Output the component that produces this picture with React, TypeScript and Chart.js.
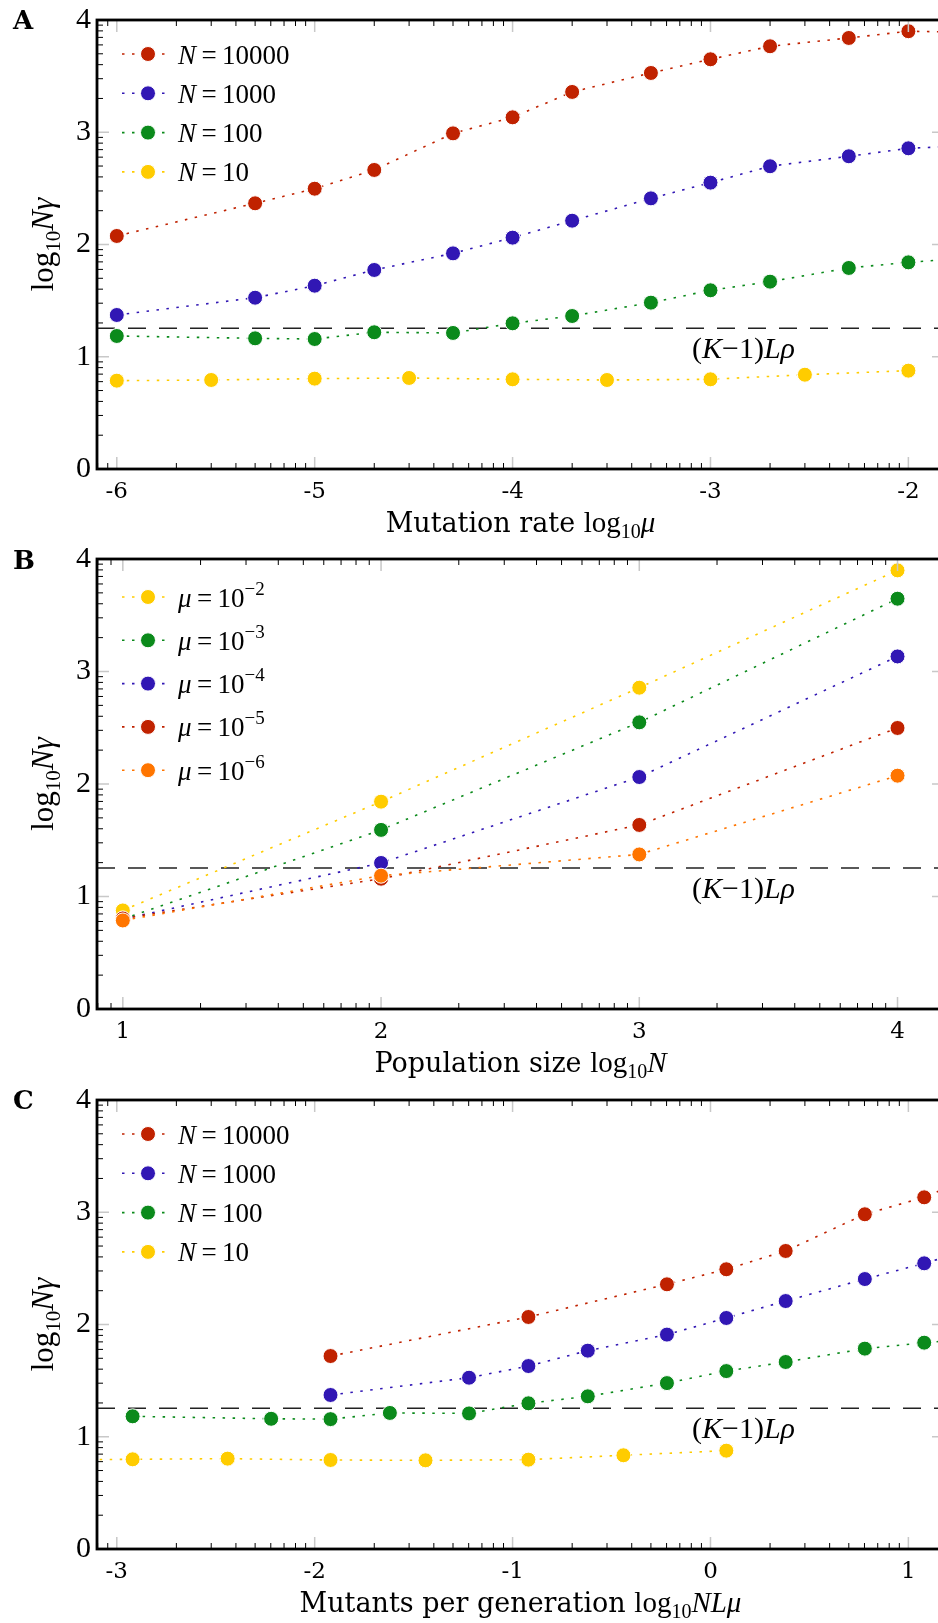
import React, { useEffect, useRef } from 'react';
import { Chart, registerables } from 'chart.js';

Chart.register(...registerables);

// ---------- colours & fonts ----------
const RED = '#c02200';
const BLUE = '#3117b4';
const GREEN = '#0b8a1b';
const YELLOW = '#ffcc00';
const ORANGE = '#ff7500';
const MATH = '"Liberation Serif", "Times New Roman", serif';
const TEXT = '"DejaVu Serif", serif';

// ---------- shared ----------
const yTicks = [0, 1, 2, 3, 4];
const thresholdA = 1.255;
const thresholdB = 1.253;
const thresholdC = 1.254;

// ---------- Panel A : log10 mu ----------
const xTicksA = [-6, -5, -4, -3, -2];
const muA = [-6, -5.301, -5, -4.699, -4.301, -4, -3.699, -3.301, -3, -2.699, -2.301, -2, -1.699];
const muA10 = [-6, -5.523, -5, -4.523, -4, -3.523, -3, -2.523, -2];
const aN10000 = [2.076, 2.367, 2.497, 2.664, 2.99, 3.133, 3.359, 3.528, 3.65, 3.766, 3.84, 3.9, 3.89];
const aN1000 = [1.372, 1.526, 1.633, 1.773, 1.921, 2.061, 2.212, 2.411, 2.551, 2.697, 2.786, 2.857, 2.88];
const aN100 = [1.185, 1.164, 1.158, 1.218, 1.212, 1.298, 1.363, 1.482, 1.592, 1.669, 1.791, 1.841, 1.88];
const aN10 = [0.787, 0.793, 0.805, 0.811, 0.799, 0.793, 0.799, 0.84, 0.876];

// ---------- Panel B : log10 N ----------
const xTicksB = [1, 2, 3, 4];
const logN = [1, 2, 3, 4];
const bMu2 = [0.876, 1.843, 2.856, 3.899];
const bMu3 = [0.799, 1.592, 2.548, 3.647];
const bMu4 = [0.799, 1.298, 2.062, 3.134];
const bMu5 = [0.805, 1.158, 1.636, 2.498];
const bMu6 = [0.787, 1.185, 1.374, 2.074];

// ---------- Panel C : log10 N L mu ----------
const xTicksC = [-3, -2, -1, 0, 1];
const cxN10000 = [-1.92, -0.92, -0.22, 0.08, 0.38, 0.78, 1.08, 1.38];
const cN10000 = [1.719, 2.067, 2.358, 2.492, 2.655, 2.982, 3.133, 3.359];
const cxN1000 = [-1.92, -1.22, -0.92, -0.62, -0.22, 0.08, 0.38, 0.78, 1.08, 1.38];
const cN1000 = [1.372, 1.526, 1.63, 1.767, 1.91, 2.058, 2.209, 2.405, 2.545, 2.697];
const cxN100 = [-2.92, -2.22, -1.92, -1.62, -1.22, -0.92, -0.62, -0.22, 0.08, 0.38, 0.78, 1.08, 1.38];
const cN100 = [1.182, 1.16, 1.157, 1.212, 1.208, 1.298, 1.36, 1.478, 1.585, 1.666, 1.785, 1.838, 1.88];
const cxN10 = [-3.92, -3.44, -2.92, -2.44, -1.92, -1.44, -0.92, -0.44, 0.08];
const cN10 = [0.787, 0.793, 0.799, 0.805, 0.793, 0.79, 0.796, 0.835, 0.876];

// ---------- helpers ----------
type Run = { t: string; font: string; dy?: number };

function runsWidth(ctx: CanvasRenderingContext2D, runs: Run[]) {
  let w = 0;
  for (const r of runs) {
    ctx.font = r.font;
    w += ctx.measureText(r.t).width;
  }
  return w;
}

function drawRuns(ctx: CanvasRenderingContext2D, runs: Run[], x: number, y: number, align: 'left' | 'center') {
  let cx = align === 'center' ? x - runsWidth(ctx, runs) / 2 : x;
  ctx.textAlign = 'left';
  ctx.textBaseline = 'alphabetic';
  for (const r of runs) {
    ctx.font = r.font;
    ctx.fillText(r.t, cx, y + (r.dy || 0));
    cx += ctx.measureText(r.t).width;
  }
}

const rom = (s: number) => `${s}px ${MATH}`;
const ita = (s: number) => `italic ${s}px ${MATH}`;

const nLabel = (n: string): Run[] => [
  { t: 'N', font: ita(27) },
  { t: '\u2009=\u2009', font: rom(27) },
  { t: n, font: rom(27) },
];
const muLabel = (e: string): Run[] => [
  { t: 'μ', font: ita(27) },
  { t: '\u2009=\u2009', font: rom(27) },
  { t: '10', font: rom(27) },
  { t: '\u2212' + e, font: rom(19), dy: -12 },
];
const log10 = (): Run[] => [
  { t: 'log', font: rom(29) },
  { t: '10', font: rom(20), dy: 6 },
];

function series(label: string, xs: number[], ys: number[], color: string, order: number) {
  return {
    label,
    data: xs.map((x, i) => ({ x, y: ys[i] })),
    borderColor: color,
    backgroundColor: color,
    pointBackgroundColor: color,
    pointBorderColor: '#ffffff',
    pointBorderWidth: 1,
    pointRadius: 7.5,
    pointHoverRadius: 7.5,
    borderWidth: 1.6,
    borderDash: [2.5, 7.5],
    fill: false,
    tension: 0,
    order,
    clip: 0,
  };
}

function thresholdSet(v: number, xMin: number, xMax: number) {
  return {
    label: '(K-1)Lρ',
    data: [
      { x: xMin, y: v },
      { x: xMax, y: v },
    ],
    borderColor: '#222222',
    borderWidth: 1.5,
    borderDash: [18, 13],
    pointRadius: 0,
    fill: false,
    order: 99,
    clip: 0,
  };
}

type PanelCfg = {
  letter: string;
  top: number;
  h: number;
  padTop: number;
  areaH: number;
  xMin: number;
  xMax: number;
  xTicks: number[];
  threshold: number;
  datasets: any[];
  legend: { runs: Run[]; color: string }[];
  legendFirst: number;
  legendGap: number;
  xTitle: Run[];
  xTitleOffset: number;
};

const CANVAS_W = 944;

function decorPlugin(cfg: PanelCfg) {
  return {
    id: 'decor' + cfg.letter,
    afterDraw(chart: any) {
      const ctx: CanvasRenderingContext2D = chart.ctx;
      const a = chart.chartArea;
      const xs = chart.scales.x;
      const ys = chart.scales.y;
      ctx.save();

      // minor (log-style) and major ticks on all four sides
      const minorX: number[] = [];
      for (let n = Math.floor(cfg.xMin) - 1; n <= Math.ceil(cfg.xMax); n++) {
        for (let k = 2; k <= 9; k++) {
          const v = n + Math.log10(k);
          if (v > cfg.xMin && v < cfg.xMax) minorX.push(v);
        }
      }
      const minorY: number[] = [];
      for (let n = 0; n < 4; n++) {
        for (let k = 2; k <= 9; k++) minorY.push(n + Math.log10(k));
      }
      ctx.lineWidth = 1;
      ctx.strokeStyle = '#000';
      ctx.beginPath();
      for (const v of minorX) {
        const p = xs.getPixelForValue(v);
        ctx.moveTo(p, a.bottom);
        ctx.lineTo(p, a.bottom - 6);
        ctx.moveTo(p, a.top);
        ctx.lineTo(p, a.top + 6);
      }
      for (const v of minorY) {
        const p = ys.getPixelForValue(v);
        ctx.moveTo(a.left, p);
        ctx.lineTo(a.left + 6, p);
        ctx.moveTo(a.right, p);
        ctx.lineTo(a.right - 6, p);
      }
      ctx.stroke();

      ctx.lineWidth = 1.5;
      ctx.strokeStyle = '#c8c8c8';
      ctx.beginPath();
      for (const v of cfg.xTicks) {
        const p = xs.getPixelForValue(v);
        ctx.moveTo(p, a.bottom);
        ctx.lineTo(p, a.bottom - 12);
        ctx.moveTo(p, a.top);
        ctx.lineTo(p, a.top + 12);
      }
      for (const v of yTicks) {
        const p = ys.getPixelForValue(v);
        ctx.moveTo(a.left, p);
        ctx.lineTo(a.left + 12, p);
        ctx.moveTo(a.right, p);
        ctx.lineTo(a.right - 12, p);
      }
      ctx.stroke();

      // spines
      ctx.lineWidth = 2.8;
      ctx.strokeStyle = '#000';
      ctx.strokeRect(a.left, a.top, a.right - a.left, a.bottom - a.top);

      ctx.fillStyle = '#000';
      // panel letter
      ctx.font = `bold 26px ${TEXT}`;
      ctx.textAlign = 'left';
      ctx.textBaseline = 'alphabetic';
      ctx.fillText(cfg.letter, 13, 29);

      // y title (rotated)
      ctx.save();
      ctx.translate(53, (a.top + a.bottom) / 2);
      ctx.rotate(-Math.PI / 2);
      drawRuns(
        ctx,
        [
          { t: 'log', font: rom(31) },
          { t: '10', font: rom(21), dy: 7 },
          { t: 'N', font: ita(31) },
          { t: 'γ', font: ita(31) },
        ],
        0,
        0,
        'center'
      );
      ctx.restore();

      // x title
      drawRuns(ctx, cfg.xTitle, (a.left + a.right) / 2, a.bottom + cfg.xTitleOffset, 'center');

      // threshold label
      const ty = ys.getPixelForValue(cfg.threshold);
      drawRuns(
        ctx,
        [
          { t: '(', font: rom(30) },
          { t: 'K', font: ita(30) },
          { t: '\u2212', font: rom(30) },
          { t: '1)', font: rom(30) },
          { t: 'L', font: ita(30) },
          { t: 'ρ', font: ita(30) },
        ],
        a.left + 595,
        ty + 30,
        'left'
      );

      // legend
      cfg.legend.forEach((item, i) => {
        const y = a.top + cfg.legendFirst + i * cfg.legendGap;
        ctx.save();
        ctx.strokeStyle = item.color;
        ctx.lineWidth = 1.6;
        ctx.setLineDash([2.5, 7.5]);
        ctx.beginPath();
        ctx.moveTo(a.left + 25, y);
        ctx.lineTo(a.left + 72, y);
        ctx.stroke();
        ctx.setLineDash([]);
        ctx.beginPath();
        ctx.arc(a.left + 51, y, 7.5, 0, Math.PI * 2);
        ctx.fillStyle = item.color;
        ctx.fill();
        ctx.lineWidth = 1;
        ctx.strokeStyle = '#fff';
        ctx.stroke();
        ctx.restore();
        ctx.fillStyle = '#000';
        drawRuns(ctx, item.runs, a.left + 81, y + 9.5, 'left');
      });

      ctx.restore();
    },
  };
}

function Panel({ cfg }: { cfg: PanelCfg }) {
  const ref = useRef<HTMLCanvasElement>(null);
  useEffect(() => {
    const xAxisH = cfg.h - cfg.padTop - cfg.areaH;
    const chart = new Chart(ref.current as HTMLCanvasElement, {
      type: 'line',
      data: { datasets: cfg.datasets },
      options: {
        responsive: false,
        animation: false,
        events: [],
        layout: { autoPadding: false, padding: { top: cfg.padTop, left: 0, right: 0, bottom: 0 } },
        plugins: { legend: { display: false }, tooltip: { enabled: false } },
        scales: {
          x: {
            type: 'linear',
            min: cfg.xMin,
            max: cfg.xMax,
            grid: { display: false, drawTicks: false },
            border: { display: false },
            afterBuildTicks: (s: any) => {
              s.ticks = cfg.xTicks.map((v) => ({ value: v }));
            },
            afterFit: (s: any) => {
              s.height = xAxisH;
              s.paddingLeft = 0;
              s.paddingRight = 0;
            },
            ticks: {
              autoSkip: false,
              maxRotation: 0,
              padding: 9,
              color: '#000',
              font: { family: '"DejaVu Serif"', size: 23 },
              callback: (v: any) => String(v),
            },
          },
          y: {
            type: 'linear',
            min: 0,
            max: 4,
            grid: { display: false, drawTicks: false },
            border: { display: false },
            afterBuildTicks: (s: any) => {
              s.ticks = yTicks.map((v) => ({ value: v }));
            },
            afterFit: (s: any) => {
              s.width = 97;
              s.paddingTop = 0;
              s.paddingBottom = 0;
            },
            ticks: {
              padding: 6,
              color: '#000',
              font: { family: '"Liberation Serif"', size: 30 },
              callback: (v: any) => String(v),
            },
          },
        },
      } as any,
      plugins: [decorPlugin(cfg)],
    });
    return () => chart.destroy();
  }, [cfg]);
  return (
    <canvas
      ref={ref}
      width={CANVAS_W}
      height={cfg.h}
      style={{ display: 'block', position: 'absolute', left: 0, top: cfg.top, width: CANVAS_W, height: cfg.h }}
    />
  );
}

const panelA: PanelCfg = {
  letter: 'A',
  top: 0,
  h: 540,
  padTop: 20,
  areaH: 449,
  xMin: -6.1,
  xMax: -1.82,
  xTicks: xTicksA,
  threshold: thresholdA,
  datasets: [
    thresholdSet(thresholdA, -6.1, -1.82),
    series('N=10000', muA, aN10000, RED, 1),
    series('N=1000', muA, aN1000, BLUE, 2),
    series('N=100', muA, aN100, GREEN, 3),
    series('N=10', muA10, aN10, YELLOW, 4),
  ],
  legend: [
    { runs: nLabel('10000'), color: RED },
    { runs: nLabel('1000'), color: BLUE },
    { runs: nLabel('100'), color: GREEN },
    { runs: nLabel('10'), color: YELLOW },
  ],
  legendFirst: 34,
  legendGap: 39.3,
  xTitle: [{ t: 'Mutation rate ', font: `27px ${TEXT}` }, ...log10(), { t: 'μ', font: ita(29) }],
  xTitleOffset: 63,
};

const panelB: PanelCfg = {
  letter: 'B',
  top: 540,
  h: 560,
  padTop: 19,
  areaH: 450,
  xMin: 0.9,
  xMax: 4.18,
  xTicks: xTicksB,
  threshold: thresholdB,
  datasets: [
    thresholdSet(thresholdB, 0.9, 4.18),
    series('μ=10^-2', logN, bMu2, YELLOW, 5),
    series('μ=10^-3', logN, bMu3, GREEN, 4),
    series('μ=10^-4', logN, bMu4, BLUE, 3),
    series('μ=10^-5', logN, bMu5, RED, 2),
    series('μ=10^-6', logN, bMu6, ORANGE, 1),
  ],
  legend: [
    { runs: muLabel('2'), color: YELLOW },
    { runs: muLabel('3'), color: GREEN },
    { runs: muLabel('4'), color: BLUE },
    { runs: muLabel('5'), color: RED },
    { runs: muLabel('6'), color: ORANGE },
  ],
  legendFirst: 38,
  legendGap: 43.3,
  xTitle: [{ t: 'Population size ', font: `27px ${TEXT}` }, ...log10(), { t: 'N', font: ita(29) }],
  xTitleOffset: 63,
};

const panelC: PanelCfg = {
  letter: 'C',
  top: 1080,
  h: 543,
  padTop: 20,
  areaH: 449,
  xMin: -3.1,
  xMax: 1.18,
  xTicks: xTicksC,
  threshold: thresholdC,
  datasets: [
    thresholdSet(thresholdC, -3.1, 1.18),
    series('N=10000', cxN10000, cN10000, RED, 1),
    series('N=1000', cxN1000, cN1000, BLUE, 2),
    series('N=100', cxN100, cN100, GREEN, 3),
    series('N=10', cxN10, cN10, YELLOW, 4),
  ],
  legend: [
    { runs: nLabel('10000'), color: RED },
    { runs: nLabel('1000'), color: BLUE },
    { runs: nLabel('100'), color: GREEN },
    { runs: nLabel('10'), color: YELLOW },
  ],
  legendFirst: 34,
  legendGap: 39.3,
  xTitle: [
    { t: 'Mutants per generation ', font: `27px ${TEXT}` },
    ...log10(),
    { t: 'NL', font: ita(29) },
    { t: 'μ', font: ita(29) },
  ],
  xTitleOffset: 63,
};

export default function App() {
  useEffect(() => {
    document.body.style.margin = '0';
  }, []);
  return (
    <div style={{ position: 'relative', width: 938, height: 1623, overflow: 'hidden', background: '#fff' }}>
      <style>{'body{margin:0;}'}</style>
      <Panel cfg={panelA} />
      <Panel cfg={panelB} />
      <Panel cfg={panelC} />
    </div>
  );
}
